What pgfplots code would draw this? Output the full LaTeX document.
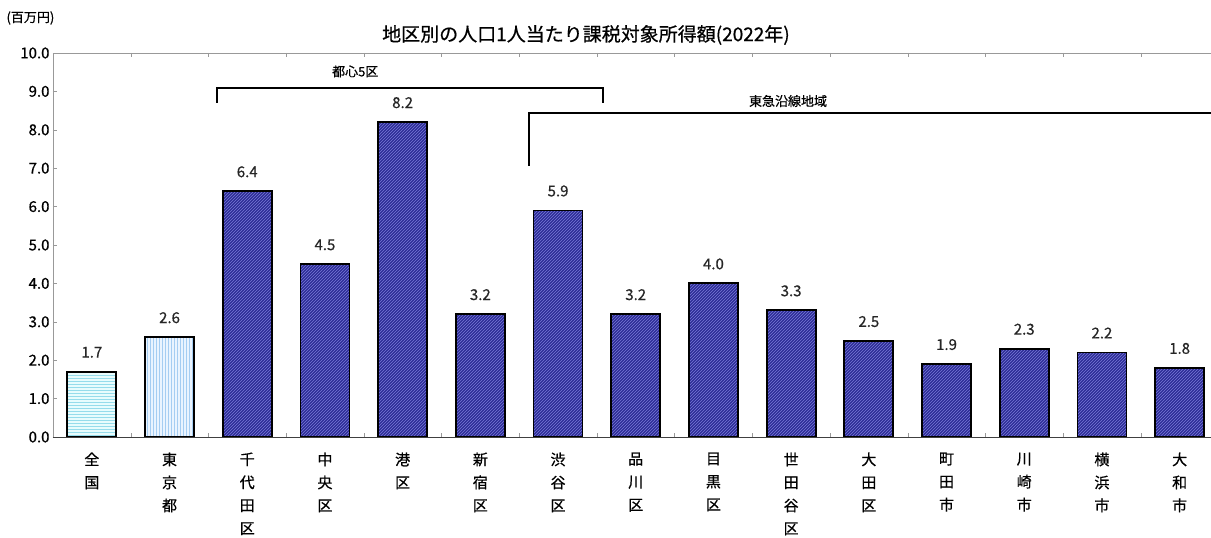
\documentclass[border=0pt]{standalone}
\usepackage{fontspec}
\setmainfont{Noto Sans CJK JP}[UprightFeatures={FakeBold=0.6}]
\usepackage{pgfplots}
\pgfplotsset{compat=1.18}
\usetikzlibrary{patterns}

\definecolor{barblue}{RGB}{44,44,150}
\definecolor{hatchblue}{RGB}{120,120,215}
\definecolor{natfill}{RGB}{232,252,253}
\definecolor{natline}{RGB}{150,220,235}
\definecolor{tkyfill}{RGB}{234,244,255}
\definecolor{tkyline}{RGB}{165,205,242}

\begin{document}
\begin{tikzpicture}
\path[use as bounding box] (-53pt,-101pt) rectangle (1158pt,437pt);
\begin{axis}[
    scale only axis,
    width=1165.5pt, height=384pt,
    xmin=-0.5, xmax=14.5,
    ymin=0, ymax=10,
    ybar, bar width=49pt, bar shift=0pt,
    clip=false,
    axis line style={draw=gray!80},
    xtick={0,...,14},
    xticklabels={{全\\国},{東\\京\\都},{千\\代\\田\\区},{中\\央\\区},{港\\区},
        {新\\宿\\区},{渋\\谷\\区},{品\\川\\区},{目\\黒\\区},{世\\田\\谷\\区},
        {大\\田\\区},{町\\田\\市},{川\\崎\\市},{横\\浜\\市},{大\\和\\市}},
    x tick label style={font=\fontsize{15}{23}\selectfont, align=center,
        anchor=north, yshift=-12pt},
    major x tick style={draw=none},
    minor xtick={0.5,1.5,...,13.5},
    minor x tick style={draw=gray!80},
    minor tick length=4pt,
    ytick={0,1,...,10},
    yticklabel style={font=\fontsize{15}{18}\selectfont},
    yticklabel={\pgfmathprintnumber[fixed,fixed zerofill,precision=1]{\tick}},
    major y tick style={draw=gray!80},
    major tick length=4pt,
    tick align=inside,
    /pgf/number format/assume math mode=true,
    nodes near coords,
    every node near coord/.append style={font=\fontsize{15}{18}\selectfont,
        text=black!85, inner sep=0pt, yshift=13pt,
        /pgf/number format/fixed, /pgf/number format/fixed zerofill,
        /pgf/number format/precision=1},
]
% 全国
\addplot[draw=black, line width=1.8pt, preaction={fill=natfill},
    pattern=horizontal lines, pattern color=natline]
    coordinates {(0,1.7)};
% 東京都
\addplot[draw=black, line width=1.8pt, preaction={fill=tkyfill},
    pattern=vertical lines, pattern color=tkyline]
    coordinates {(1,2.6)};
% 各区市
\addplot[draw=black, line width=1.8pt, preaction={fill=barblue},
    pattern=north east lines, pattern color=hatchblue]
    coordinates {
    (2,6.4) (3,4.5) (4,8.2) (5,3.2) (6,5.9) (7,3.2) (8,4.0)
    (9,3.3) (10,2.5) (11,1.9) (12,2.3) (13,2.2) (14,1.8)
    };

% bottom axis line darker
\draw[black!75, line width=1pt] (axis cs:-0.5,0) -- (axis cs:14.5,0);

% brackets
\draw[black, line width=2pt] (axis cs:1.61,8.70) -- (axis cs:1.61,9.09)
    -- (axis cs:6.58,9.09) -- (axis cs:6.58,8.70);
\node[font=\fontsize{13}{15}\selectfont] at (axis cs:3.39,9.52) {都心5区};
\draw[black, line width=2pt] (axis cs:5.63,7.06) -- (axis cs:5.63,8.44)
    -- (axis cs:14.6,8.44);
\node[font=\fontsize{13}{15}\selectfont] at (axis cs:8.96,8.75) {東急沿線地域};
\end{axis}

\node[font=\fontsize{19}{22}\selectfont] at (533pt,402pt)
    {地区別の人口1人当たり課税対象所得額(2022年)};
\node[font=\fontsize{13}{15}\selectfont, anchor=west] at (-50pt,419pt) {(百万円)};
\end{tikzpicture}
\end{document}
